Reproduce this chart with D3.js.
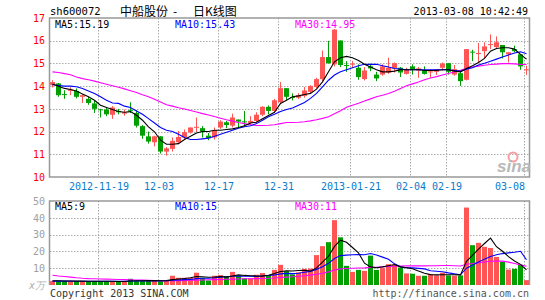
<!DOCTYPE html>
<html><head><meta charset="utf-8">
<script src="https://cdn.jsdelivr.net/npm/d3@7"></script>
<style>
body{margin:0;background:#fff}
svg{display:block}
text{font-family:"DejaVu Sans Mono",monospace;font-size:10px}
</style>
</head><body>
<svg id="c" width="545" height="300"></svg>
<script>
const dates = ["2012-11-07","2012-11-08","2012-11-09","2012-11-12","2012-11-13","2012-11-14","2012-11-15","2012-11-16","2012-11-19","2012-11-20","2012-11-21","2012-11-22","2012-11-23","2012-11-26","2012-11-27","2012-11-28","2012-11-29","2012-11-30","2012-12-03","2012-12-04","2012-12-05","2012-12-06","2012-12-07","2012-12-10","2012-12-11","2012-12-12","2012-12-13","2012-12-14","2012-12-17","2012-12-18","2012-12-19","2012-12-20","2012-12-21","2012-12-24","2012-12-25","2012-12-26","2012-12-27","2012-12-28","2012-12-31","2013-01-04","2013-01-07","2013-01-08","2013-01-09","2013-01-10","2013-01-11","2013-01-14","2013-01-15","2013-01-16","2013-01-17","2013-01-18","2013-01-21","2013-01-22","2013-01-23","2013-01-24","2013-01-25","2013-01-28","2013-01-29","2013-01-30","2013-01-31","2013-02-01","2013-02-04","2013-02-05","2013-02-06","2013-02-07","2013-02-08","2013-02-18","2013-02-19","2013-02-20","2013-02-21","2013-02-22","2013-02-25","2013-02-26","2013-02-27","2013-02-28","2013-03-01","2013-03-04","2013-03-05","2013-03-06","2013-03-07","2013-03-08"];

const opens = [14.04,14.12,13.65,13.79,13.79,13.53,13.44,13.24,12.98,12.97,
12.74,12.91,12.79,12.94,12.82,12.24,11.79,11.53,11.79,11.12,
11.24,11.53,11.74,11.97,12.20,12.15,11.82,11.74,12.18,12.41,
12.26,12.53,12.45,12.38,12.47,12.74,13.09,12.91,13.29,13.91,
13.52,13.49,13.57,13.75,13.96,14.31,15.28,14.96,16.01,14.93,
14.98,14.81,14.31,14.87,14.51,14.51,14.60,14.78,14.81,14.54,
14.87,14.69,14.69,14.63,14.63,14.81,15.01,14.51,14.57,14.28,
15.52,15.44,15.54,15.83,15.72,15.81,15.40,15.63,15.40,14.72];
const highs = [14.26,14.14,13.82,13.95,13.90,13.65,13.53,13.35,13.00,13.06,
13.12,13.00,12.97,13.29,12.94,12.29,12.00,11.82,11.80,11.32,
11.74,12.03,12.09,12.18,12.62,12.24,11.94,12.18,12.50,12.47,
12.79,12.53,12.91,12.68,12.85,13.12,13.15,13.44,14.18,13.91,
13.68,13.69,13.96,14.04,14.37,15.57,15.99,16.51,16.01,15.10,
15.10,14.96,14.84,14.99,14.63,14.96,15.25,15.04,14.84,14.81,
14.96,14.84,14.87,14.75,14.75,15.04,15.01,14.93,14.69,15.63,
15.60,15.90,15.93,16.28,16.19,15.81,15.51,15.78,15.40,14.90];
const lows = [13.94,13.53,13.44,13.60,13.46,13.26,13.18,12.82,12.62,12.68,
12.56,12.76,12.70,12.82,12.18,11.68,11.47,11.35,11.03,10.94,
11.12,11.44,11.65,11.91,11.97,11.74,11.62,11.65,12.12,12.15,
12.18,12.18,12.24,12.29,12.41,12.68,12.76,12.85,13.24,13.38,
13.37,13.43,13.49,13.66,13.90,14.22,14.99,14.87,14.84,14.63,
14.81,14.28,14.25,14.66,14.22,14.46,14.54,14.60,14.40,14.51,
14.51,14.37,14.51,14.37,14.49,14.69,14.51,14.46,14.01,14.25,
15.10,15.01,15.22,15.63,15.66,15.22,15.04,15.49,14.72,14.49];
const closes = [14.18,13.60,13.64,13.85,13.53,13.60,13.26,13.00,12.97,12.76,
13.06,12.85,12.85,12.91,12.26,11.82,11.56,11.79,11.12,11.26,
11.59,11.76,11.97,12.18,12.21,12.00,11.71,12.06,12.44,12.29,
12.62,12.44,12.44,12.47,12.74,13.09,12.91,13.38,13.91,13.53,
13.50,13.60,13.81,14.01,14.31,15.28,15.01,16.49,14.93,14.92,
14.99,14.40,14.69,14.78,14.34,14.87,14.81,15.01,14.60,14.72,
14.75,14.78,14.54,14.65,14.75,14.99,14.63,14.75,14.22,15.63,
15.50,15.46,15.75,15.85,15.93,15.49,15.49,15.54,14.87,14.74];

const ma5 = [14.09,14.00,13.90,13.85,13.79,13.65,13.53,13.38,13.16,13.06,
12.97,12.88,12.85,12.88,12.72,12.50,12.21,11.99,11.62,11.44,
11.44,11.47,11.65,11.79,11.94,12.00,12.00,12.06,12.06,12.09,
12.12,12.18,12.26,12.38,12.41,12.56,12.71,12.85,13.24,13.38,
13.53,13.57,13.63,13.68,13.87,14.19,14.63,15.07,15.25,15.31,
15.25,15.13,14.96,14.84,14.72,14.63,14.63,14.66,14.72,14.72,
14.72,14.72,14.69,14.69,14.69,14.72,14.72,14.66,14.63,14.78,
14.90,15.04,15.22,15.54,15.66,15.69,15.69,15.63,15.40,15.19];
const ma10 = [14.06,14.03,14.00,14.00,13.97,13.90,13.79,13.68,13.53,13.38,
13.26,13.24,13.12,13.06,12.91,12.76,12.57,12.38,12.18,12.06,
12.00,11.88,11.74,11.65,11.65,11.68,11.71,11.79,11.88,11.97,
12.06,12.15,12.21,12.26,12.35,12.50,12.65,12.76,12.88,12.97,
13.04,13.16,13.28,13.46,13.68,13.97,14.26,14.49,14.63,14.72,
14.81,14.90,14.96,14.96,14.96,14.90,14.84,14.78,14.75,14.72,
14.72,14.72,14.72,14.72,14.72,14.72,14.72,14.69,14.66,14.75,
14.81,14.93,15.01,15.10,15.19,15.28,15.37,15.46,15.51,15.43];
const ma30 = [14.63,14.60,14.55,14.50,14.40,14.33,14.28,14.22,14.15,14.08,
14.02,13.95,13.88,13.80,13.72,13.62,13.53,13.42,13.30,13.18,
13.12,13.05,12.99,12.93,12.86,12.79,12.73,12.66,12.59,12.52,
12.46,12.40,12.35,12.30,12.27,12.27,12.28,12.30,12.35,12.40,
12.40,12.41,12.43,12.47,12.52,12.58,12.65,12.78,12.92,13.07,
13.16,13.25,13.35,13.44,13.53,13.60,13.68,13.78,13.90,14.02,
14.10,14.18,14.28,14.36,14.42,14.49,14.56,14.63,14.70,14.79,
14.84,14.88,14.92,14.95,14.97,14.99,14.99,14.98,14.96,14.95];

const volumes = [2.4,2.4,2.2,2.0,2.2,2.2,2.2,2.2,2.2,2.2,
2.2,2.2,2.0,3.7,2.4,2.4,2.4,2.4,2.2,2.9,
5.5,4.3,4.3,4.3,7.3,4.3,2.7,5.5,5.9,5.3,
7.8,5.5,3.9,3.9,6.1,7.1,5.9,9.0,12.0,8.2,
6.3,7.5,9.6,9.8,17.8,23.1,25.5,38.6,28.4,11.4,
7.8,9.0,8.4,17.5,9.0,10.0,12.4,12.0,10.4,6.9,
6.7,5.5,5.5,6.5,5.7,7.3,5.7,5.5,5.7,46.1,
23.7,25.1,22.7,22.0,16.7,13.9,9.2,9.6,12.0,2.9];
const vma5 = [2.5,2.5,2.4,2.4,2.3,2.3,2.2,2.2,2.2,2.2,
2.2,2.1,2.1,2.4,2.5,2.5,2.6,2.6,2.5,2.6,
3.2,3.6,3.9,4.3,5.1,4.9,4.6,4.8,5.1,4.7,
5.4,6.0,5.7,5.5,5.4,5.3,5.8,6.8,8.0,8.4,
8.3,8.6,8.7,8.3,10.2,13.6,17.1,23.0,26.7,25.4,
22.3,19.1,13.0,10.8,10.3,10.8,11.5,12.2,10.8,10.3,
9.7,8.3,7.0,6.2,6.0,6.1,6.1,6.1,6.0,14.1,
17.7,21.3,24.7,27.9,22.8,20.1,16.9,14.3,12.3,9.0];
const vma10 = [2.3,2.3,2.3,2.3,2.2,2.2,2.2,2.2,2.2,2.2,
2.2,2.2,2.2,2.4,2.4,2.4,2.4,2.4,2.4,2.5,
2.8,3.0,3.2,3.3,3.8,4.0,4.0,4.3,4.7,4.9,
5.2,5.3,5.2,5.2,5.1,5.4,5.7,6.0,6.6,6.9,
6.8,7.0,7.6,8.1,9.3,10.9,12.9,15.8,17.5,17.8,
18.0,18.1,18.0,18.7,17.9,16.6,15.3,12.6,10.8,10.3,
10.2,9.9,9.6,8.5,8.2,7.9,7.2,6.6,6.1,10.0,
11.7,13.7,15.4,17.0,18.0,18.7,19.1,19.5,20.1,15.0];
const vma30 = [5.8,5.4,5.1,4.7,4.3,4.0,3.8,3.7,3.6,3.5,
3.4,3.3,3.2,3.1,3.0,2.9,2.8,2.7,2.6,2.5,
2.5,2.6,2.7,2.8,2.9,3.0,3.1,3.2,3.3,3.4,
3.5,3.6,3.7,3.7,3.8,3.9,4.0,4.2,4.5,4.7,
4.9,5.2,5.5,5.9,6.4,7.0,7.8,8.9,9.6,9.8,
10.0,10.1,10.2,10.5,10.6,10.8,11.0,11.2,11.3,11.4,
11.4,11.4,11.4,11.5,11.5,11.6,11.6,11.5,11.3,12.4,
12.8,13.3,13.7,14.1,14.3,14.2,13.6,12.8,12.0,11.2];

const priceTicks = [10,11,12,13,14,15,16,17];
const volumeTicks = [10,20,30,40,50];
const tickDates = ["2012-11-19","2012-12-03","2012-12-17","2012-12-31","2013-01-21","2013-02-04","2013-02-19","2013-03-08"];
const tickLabels = ["2012-11-19","12-03","12-17","12-31","2013-01-21","02-04","02-19","03-08"];

const RED = "#ff5555", GREEN = "#00a000", GRID = "#aaaaaa", BORDER = "#999999";
const svg = d3.select("#c");
const L = 50, R = 529, PT = 18, PB = 177, VT = 201, VB = 285;

const x = d3.scaleBand().domain(dates).range([49, 529]);
const y = d3.scaleLinear().domain([10, 17]).range([PB, PT]);
const yv = d3.scaleLinear().domain([0, 50]).range([VB, VT]);
const cx = d => x(d) + 3.5;
const gx = d => x(d) + 1;

const candles = dates.map((d, i) => ({d, o: opens[i], h: highs[i], l: lows[i], c: closes[i], v: volumes[i]}));
const col = k => k.c >= k.o ? RED : GREEN;

// grids
const grid = svg.append("g").attr("stroke", GRID).attr("stroke-width", 1).attr("stroke-dasharray", "1.5,1.5");
grid.selectAll("line.hp").data(priceTicks.filter(t => t > 10 && t < 17)).join("line")
  .attr("x1", L).attr("x2", R).attr("y1", t => Math.round(y(t)) + 0.5).attr("y2", t => Math.round(y(t)) + 0.5);
grid.selectAll("line.hv").data(volumeTicks.filter(t => t < 50)).join("line")
  .attr("x1", L).attr("x2", R).attr("y1", t => Math.round(yv(t)) + 0.5).attr("y2", t => Math.round(yv(t)) + 0.5);
grid.selectAll("line.vp").data(tickDates).join("line")
  .attr("x1", d => gx(d) + 0.5).attr("x2", d => gx(d) + 0.5).attr("y1", PT).attr("y2", PB);
grid.selectAll("line.vv").data(tickDates).join("line")
  .attr("x1", d => gx(d) + 0.5).attr("x2", d => gx(d) + 0.5).attr("y1", VT).attr("y2", VB);

// candles
const cg = svg.append("g");
cg.selectAll("line").data(candles).join("line")
  .attr("x1", k => cx(k.d)).attr("x2", k => cx(k.d))
  .attr("y1", k => y(k.h)).attr("y2", k => y(k.l))
  .attr("stroke", col).attr("stroke-width", 1);
cg.selectAll("rect").data(candles).join("rect")
  .attr("x", k => x(k.d) + 1).attr("width", 5)
  .attr("y", k => y(Math.max(k.o, k.c)))
  .attr("height", k => Math.max(1, Math.abs(y(k.o) - y(k.c))))
  .attr("fill", col);

// price MA lines
const pLine = arr => d3.line().x((d, i) => cx(dates[i])).y(d => y(d))(arr);
[[ma30, "#ff00ff"], [ma10, "#0000ff"], [ma5, "#000000"]].forEach(([a, c]) => {
  svg.append("path").attr("d", pLine(a)).attr("fill", "none").attr("stroke", c).attr("stroke-width", 1.1);
});

// volume bars
svg.append("g").selectAll("rect").data(candles).join("rect")
  .attr("x", k => x(k.d) + 1).attr("width", 5)
  .attr("y", k => yv(k.v)).attr("height", k => VB - yv(k.v))
  .attr("fill", col);
const vLine = arr => d3.line().x((d, i) => cx(dates[i])).y(d => yv(d))(arr);
[[vma30, "#ff00ff"], [vma10, "#0000ff"], [vma5, "#000000"]].forEach(([a, c]) => {
  svg.append("path").attr("d", vLine(a)).attr("fill", "none").attr("stroke", c).attr("stroke-width", 1.1);
});

// borders
const bd = svg.append("g").attr("fill", "none").attr("stroke", BORDER).attr("stroke-width", 1.5);
bd.append("rect").attr("x", L - 0.5).attr("y", PT).attr("width", R - L + 1).attr("height", PB - PT);
bd.append("path").attr("d", `M${L - 0.5},${VB}V${VT}H${R + 0.5}V${VB}`);

// axes
const fmt = d3.format("d");
const ay = svg.append("g").attr("transform", `translate(${L},0)`)
  .call(d3.axisLeft(y).tickValues(priceTicks).tickSize(0).tickPadding(5).tickFormat(fmt));
ay.select(".domain").remove();
ay.selectAll("text").attr("fill", "#ff0000").style("font-family", "DejaVu Sans Mono").style("font-size", "10px");

const av = svg.append("g").attr("transform", `translate(${L},0)`)
  .call(d3.axisLeft(yv).tickValues(volumeTicks).tickSize(0).tickPadding(5).tickFormat(fmt));
av.select(".domain").remove();
av.selectAll("text").attr("fill", "#a0a0a0").style("font-family", "DejaVu Sans Mono").style("font-size", "10px");

const tickMap = new Map(tickDates.map((d, i) => [d, tickLabels[i]]));
const ax = svg.append("g").attr("transform", `translate(0,${PB})`)
  .call(d3.axisBottom(d3.scalePoint().domain(dates).range([gx(dates[0]) + 0.5, gx(dates[dates.length - 1]) + 0.5]))
    .tickValues(tickDates).tickSize(0).tickPadding(6).tickFormat(d => tickMap.get(d)));
ax.select(".domain").remove();
ax.selectAll("text").attr("fill", "#0a7ccc").style("font-family", "DejaVu Sans Mono").style("font-size", "10px");
ax.selectAll("text").filter(d => d === tickDates[tickDates.length - 1]).attr("text-anchor", "end");

// header
const t = (xx, yy, s, c, anchor) => svg.append("text").attr("x", xx).attr("y", yy).attr("fill", c || "#000")
  .attr("text-anchor", anchor || "start").text(s);
t(50, 15, "sh600072").style("font-size", "10.5px");
const title = svg.append("text").attr("y", 16).style("font-family", "'Noto Sans CJK SC'").style("font-size", "12px").attr("fill", "#000");
title.append("tspan").attr("x", 120).text("中船股份");
title.append("tspan").attr("x", 173).text("-");
title.append("tspan").attr("x", 193).text("日K线图");
t(528, 15, "2013-03-08 10:42:49", "#000", "end");

const f2 = d3.format(".2f"), f0 = d3.format(".0f");
t(55, 28, "MA5:" + f2(ma5[ma5.length - 1]), "#000");
t(175, 28, "MA10:" + f2(ma10[ma10.length - 1]), "#0000ff");
t(295, 28, "MA30:" + f2(ma30[ma30.length - 1]), "#ff00ff");
t(55, 210, "MA5:" + f0(vma5[vma5.length - 1]), "#000");
t(175, 210, "MA10:" + f0(vma10[vma10.length - 1]), "#0000ff");
t(295, 210, "MA30:" + f0(vma30[vma30.length - 1]), "#ff00ff");

t(45, 289, "x万", "#b0b0b0", "end").style("font-style", "italic");
t(50, 297, "Copyright 2013 SINA.COM", "#333");
t(529, 297, "http://finance.sina.com.cn", "#555", "end");

// sina watermark
svg.append("circle").attr("cx", 513).attr("cy", 157).attr("r", 4.5).attr("fill", "none").attr("stroke", "#f3a0a0").attr("stroke-width", 2);
svg.append("text").attr("x", 497).attr("y", 172).attr("fill", "#b8b8b8")
  .style("font-family", "'Liberation Sans'").style("font-size", "17px").style("font-weight", "bold").style("font-style", "italic").text("sina");
</script>
</body></html>
